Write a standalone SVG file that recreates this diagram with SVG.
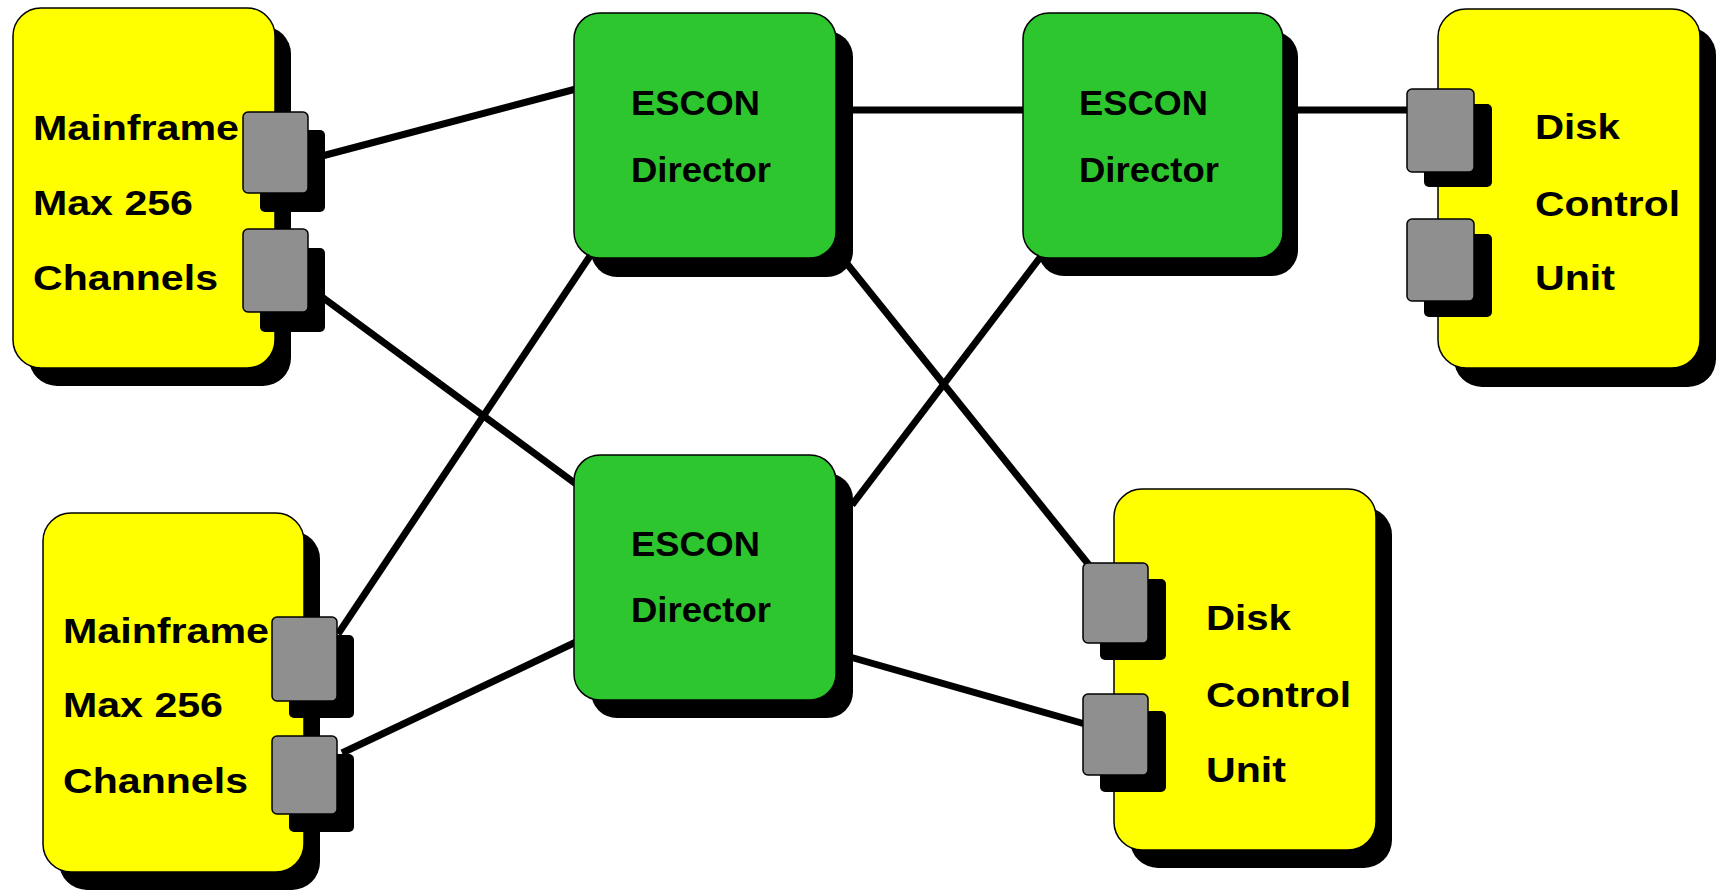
<svg xmlns="http://www.w3.org/2000/svg" width="1729" height="892" viewBox="0 0 1729 892">
<defs>
<style>
.sh{fill:#000}
.yb{fill:#ffff00;stroke:#000;stroke-width:1.5}
.gb{fill:#2ec62e;stroke:#000;stroke-width:1.5}
.pt{fill:#8f8f8f;stroke:#000;stroke-width:1.5}
.t{font-family:"Liberation Sans",Arial,sans-serif;font-weight:bold;font-size:35px;fill:#000}
.c{stroke:#000;stroke-width:7;fill:none;stroke-linecap:butt}
</style>
</defs>
<rect width="1729" height="892" fill="#fff"/>
<g id="connectors">
<line class="c" x1="322" y1="156" x2="576" y2="89"/>
<line class="c" x1="322" y1="297" x2="576" y2="484"/>
<line class="c" x1="338" y1="634" x2="590" y2="256"/>
<line class="c" x1="342" y1="753" x2="576" y2="642"/>
<line class="c" x1="850" y1="110" x2="1025" y2="110"/>
<line class="c" x1="1295" y1="110" x2="1409" y2="110"/>
<line class="c" x1="844" y1="260" x2="1089" y2="565"/>
<line class="c" x1="1042" y1="255" x2="852" y2="505"/>
<line class="c" x1="850" y1="657" x2="1085" y2="724"/>
</g>
<g id="mainframe1">
<rect class="sh" x="29" y="26" width="262" height="360" rx="28"/>
<rect class="yb" x="13" y="8" width="262" height="360" rx="28"/>
<text class="t" x="33" y="140" textLength="206" lengthAdjust="spacingAndGlyphs">Mainframe</text>
<text class="t" x="33" y="215" textLength="160" lengthAdjust="spacingAndGlyphs">Max 256</text>
<text class="t" x="33" y="290" textLength="185" lengthAdjust="spacingAndGlyphs">Channels</text>
<rect class="sh" x="260" y="130" width="65" height="82" rx="5"/>
<rect class="pt" x="243" y="112" width="65" height="81" rx="5"/>
<rect class="sh" x="260" y="248" width="65" height="84" rx="5"/>
<rect class="pt" x="243" y="229" width="65" height="83" rx="5"/>
</g>
<g id="mainframe2">
<rect class="sh" x="59" y="531" width="261" height="359" rx="28"/>
<rect class="yb" x="43" y="513" width="261" height="359" rx="28"/>
<text class="t" x="63" y="643" textLength="206" lengthAdjust="spacingAndGlyphs">Mainframe</text>
<text class="t" x="63" y="717" textLength="160" lengthAdjust="spacingAndGlyphs">Max 256</text>
<text class="t" x="63" y="793" textLength="185" lengthAdjust="spacingAndGlyphs">Channels</text>
<rect class="sh" x="289" y="635" width="65" height="83" rx="5"/>
<rect class="pt" x="272" y="617" width="65" height="84" rx="5"/>
<rect class="sh" x="289" y="754" width="65" height="78" rx="5"/>
<rect class="pt" x="272" y="736" width="65" height="78" rx="5"/>
</g>
<g id="director1">
<rect class="sh" x="591" y="31" width="262" height="246" rx="26"/>
<rect class="gb" x="574" y="13" width="262" height="245" rx="26"/>
<text class="t" x="631" y="115" textLength="129" lengthAdjust="spacingAndGlyphs">ESCON</text>
<text class="t" x="631" y="182" textLength="140" lengthAdjust="spacingAndGlyphs">Director</text>
</g>
<g id="director2">
<rect class="sh" x="591" y="473" width="262" height="245" rx="26"/>
<rect class="gb" x="574" y="455" width="262" height="245" rx="26"/>
<text class="t" x="631" y="556" textLength="129" lengthAdjust="spacingAndGlyphs">ESCON</text>
<text class="t" x="631" y="622" textLength="140" lengthAdjust="spacingAndGlyphs">Director</text>
</g>
<g id="director3">
<rect class="sh" x="1038" y="31" width="260" height="245" rx="26"/>
<rect class="gb" x="1023" y="13" width="260" height="245" rx="26"/>
<text class="t" x="1079" y="115" textLength="129" lengthAdjust="spacingAndGlyphs">ESCON</text>
<text class="t" x="1079" y="182" textLength="140" lengthAdjust="spacingAndGlyphs">Director</text>
</g>
<g id="diskcu1">
<rect class="sh" x="1454" y="27" width="262" height="360" rx="28"/>
<rect class="yb" x="1438" y="9" width="262" height="359" rx="28"/>
<text class="t" x="1535" y="139" textLength="85" lengthAdjust="spacingAndGlyphs">Disk</text>
<text class="t" x="1535" y="216" textLength="145" lengthAdjust="spacingAndGlyphs">Control</text>
<text class="t" x="1535" y="290" textLength="80" lengthAdjust="spacingAndGlyphs">Unit</text>
<rect class="sh" x="1424" y="104" width="68" height="83" rx="5"/>
<rect class="pt" x="1407" y="89" width="67" height="83" rx="5"/>
<rect class="sh" x="1424" y="234" width="68" height="83" rx="5"/>
<rect class="pt" x="1407" y="219" width="67" height="82" rx="5"/>
</g>
<g id="diskcu2">
<rect class="sh" x="1130" y="507" width="262" height="361" rx="28"/>
<rect class="yb" x="1114" y="489" width="262" height="361" rx="28"/>
<text class="t" x="1206" y="630" textLength="85" lengthAdjust="spacingAndGlyphs">Disk</text>
<text class="t" x="1206" y="707" textLength="145" lengthAdjust="spacingAndGlyphs">Control</text>
<text class="t" x="1206" y="782" textLength="80" lengthAdjust="spacingAndGlyphs">Unit</text>
<rect class="sh" x="1100" y="579" width="66" height="81" rx="5"/>
<rect class="pt" x="1083" y="563" width="65" height="80" rx="5"/>
<rect class="sh" x="1100" y="711" width="66" height="81" rx="5"/>
<rect class="pt" x="1083" y="694" width="65" height="81" rx="5"/>
</g>
</svg>
